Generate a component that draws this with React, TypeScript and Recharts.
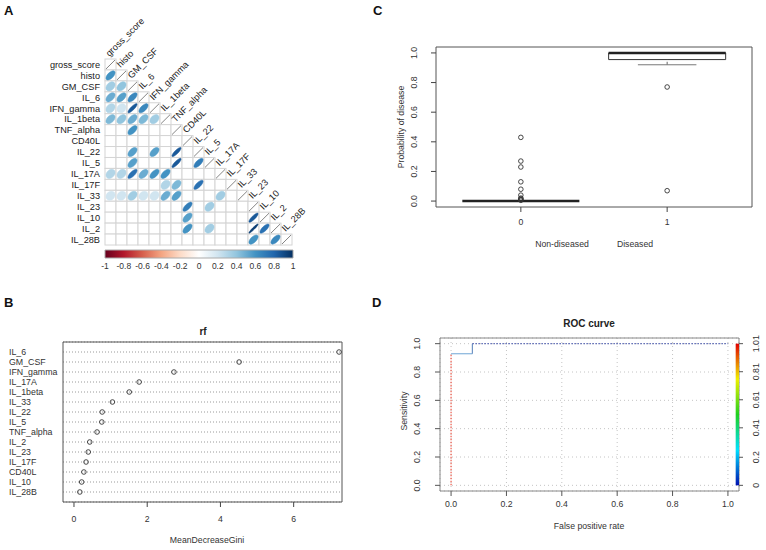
import React from "react";
import {
  ScatterChart,
  Scatter,
  ComposedChart,
  Line,
  XAxis,
  YAxis,
  CartesianGrid,
  ReferenceArea,
  ReferenceLine,
} from "recharts";

const FONT = "'Liberation Sans', Arial, Helvetica, sans-serif";

// ---- A: correlation matrix ----
const corrVars = [
  "gross_score", "histo", "GM_CSF", "IL_6", "IFN_gamma", "IL_1beta", "TNF_alpha", "CD40L",
  "IL_22", "IL_5", "IL_17A", "IL_17F", "IL_33", "IL_23", "IL_10", "IL_2", "IL_28B",
];
// [row, col, r]
const corrValues: [number, number, number][] = [
  [1, 0, 0.6],
  [2, 0, 0.35], [2, 1, 0.4],
  [3, 0, 0.5], [3, 1, 0.55], [3, 2, 0.65],
  [4, 0, 0.3], [4, 1, 0.2], [4, 2, 0.85], [4, 3, 0.65],
  [5, 0, 0.45], [5, 1, 0.4], [5, 2, 0.5], [5, 3, 0.45], [5, 4, 0.35],
  [6, 2, 0.6],
  [8, 2, 0.55], [8, 4, 0.55], [8, 6, 0.85],
  [9, 2, 0.55], [9, 6, 0.85], [9, 8, 0.7],
  [10, 0, 0.3], [10, 1, 0.3], [10, 2, 0.75], [10, 3, 0.5], [10, 4, 0.6], [10, 5, 0.6],
  [11, 5, 0.3], [11, 6, 0.45], [11, 8, 0.75],
  [12, 0, 0.2], [12, 1, 0.2], [12, 2, 0.35], [12, 3, 0.2], [12, 4, 0.2], [12, 5, 0.5], [12, 6, 0.55], [12, 10, 0.35],
  [13, 7, 0.7], [13, 9, 0.35],
  [14, 7, 0.55], [14, 13, 0.85],
  [15, 7, 0.6], [15, 9, 0.35], [15, 13, 0.95], [15, 14, 0.75],
  [16, 13, 0.6], [16, 15, 0.65],
];
const corrTicks = [-1, -0.8, -0.6, -0.4, -0.2, 0, 0.2, 0.4, 0.6, 0.8, 1];

// ---- B: variable importance ----
const rfVars = [
  "IL_6", "GM_CSF", "IFN_gamma", "IL_17A", "IL_1beta", "IL_33", "IL_22", "IL_5",
  "TNF_alpha", "IL_2", "IL_23", "IL_17F", "CD40L", "IL_10", "IL_28B",
];
const rfGini = [7.24, 4.51, 2.73, 1.78, 1.51, 1.05, 0.77, 0.76, 0.63, 0.43, 0.39, 0.33, 0.27, 0.21, 0.16];
const rfTicks = [0, 2, 4, 6];

// ---- C: boxplot ----
const groups = ["0", "1"];
const groupNames = ["Non-diseased", "Diseased"];
const boxLow = [0, 0.92];
const boxQ1 = [0, 0.955];
const boxMedian = [0, 1.0];
const boxQ3 = [0, 1.0];
const boxHigh = [0, 1.0];
const outliers = [
  [0.43, 0.27, 0.23, 0.13, 0.08, 0.04, 0.02, 0.015, 0.01, 0.005],
  [0.77, 0.07],
];
const probTicks = [0, 0.2, 0.4, 0.6, 0.8, 1.0];

// ---- D: ROC ----
const rocFpr = [0, 0, 0.077, 0.077, 1];
const rocTpr = [0, 0.929, 0.929, 1, 1];
const rocColors = ["#ee5a4a", "#86b4dc", "#6f93c4", "#5a68b4"];
const rocDash = ["1.5 1.5", "", "", "1.5 1.5"];
const rocTicks = [0, 0.2, 0.4, 0.6, 0.8, 1.0];
const cutoffTicks = [0, 0.2, 0.41, 0.61, 0.81, 1.01];

const RDBU = ["#67001F", "#B2182B", "#D6604D", "#F4A582", "#FDDBC7", "#FFFFFF", "#D1E5F0", "#92C5DE", "#4393C3", "#2166AC", "#053061"];

function hex(c: string) {
  return [1, 3, 5].map((i) => parseInt(c.slice(i, i + 2), 16));
}
function rdbu(r: number) {
  const t = ((r + 1) / 2) * (RDBU.length - 1);
  const i = Math.min(Math.floor(t), RDBU.length - 2);
  const f = t - i;
  const a = hex(RDBU[i]);
  const b = hex(RDBU[i + 1]);
  const m = a.map((v, k) => Math.round(v + (b[k] - v) * f));
  return `rgb(${m[0]},${m[1]},${m[2]})`;
}

const CELL_W = 187 / 17;
const CELL_H = 186 / 17;

const cellData = corrVars.flatMap((_, row) => corrVars.slice(0, row + 1).map((__, col) => ({ col, row })));
const diagData = corrVars.map((name, i) => ({ col: i, row: i, name }));
const ellipseData = corrValues.map(([row, col, r]) => ({ col, row, r }));

function CellShape(props: any) {
  const { cx, cy } = props;
  return <rect x={cx - CELL_W / 2} y={cy - CELL_H / 2} width={CELL_W} height={CELL_H} fill="#fff" stroke="#d4d4d4" strokeWidth={1} />;
}

function EllipseShape(props: any) {
  const { cx, cy, payload } = props;
  const r = payload.r;
  const k = 4.6;
  const rx = k * Math.sqrt(1 + Math.abs(r));
  const ry = Math.max(k * Math.sqrt(1 - Math.abs(r)), 0.5);
  const c = rdbu(r);
  return <ellipse cx={cx} cy={cy} rx={rx} ry={ry} fill={c} stroke={c} strokeWidth={0.5} transform={`rotate(${r >= 0 ? -45 : 45} ${cx} ${cy})`} />;
}

function DiagShape(props: any) {
  const { cx, cy, payload } = props;
  const x0 = cx - CELL_W / 2;
  const y0 = cy + CELL_H / 2;
  const tx = cx - 1;
  const ty = cy - CELL_H / 2 - 2;
  return (
    <g>
      <line x1={x0 + 1} y1={y0 - 1} x2={x0 + CELL_W - 1} y2={y0 - CELL_H + 1} stroke="#666" strokeWidth={0.8} />
      <text x={tx} y={ty} transform={`rotate(-45 ${tx} ${ty})`} fontSize={9.2} fill="#222" fontFamily={FONT}>
        {payload.name}
      </text>
    </g>
  );
}

function Hollow(props: any) {
  const { cx, cy } = props;
  return <circle cx={cx} cy={cy} r={2.3} fill="none" stroke="#333" strokeWidth={0.9} />;
}

function makeRotTick(offset: number, fmt: (v: number) => string) {
  return (props: any) => {
    const { x, y, payload } = props;
    const tx = x + offset;
    return (
      <text x={tx} y={y} transform={`rotate(-90 ${tx} ${y})`} textAnchor="middle" fontSize={8.7} fill="#333" fontFamily={FONT}>
        {fmt(payload.value)}
      </text>
    );
  };
}

const tickStyle = { fontSize: 8.7, fill: "#333", fontFamily: FONT };

function PanelA() {
  return (
    <>
      <div style={{ position: "absolute", left: 0, top: 0 }}>
        <ScatterChart width={320} height={250} margin={{ top: 59, right: 28, bottom: 5, left: 0 }}>
          <XAxis type="number" dataKey="col" domain={[-0.5, 16.5]} hide height={0} />
          <YAxis
            type="number"
            dataKey="row"
            domain={[-0.5, 16.5]}
            reversed
            ticks={corrVars.map((_, i) => i)}
            interval={0}
            tickFormatter={(v: number) => corrVars[v]}
            width={105}
            tickLine={false}
            axisLine={false}
            tickSize={3}
            tickMargin={2}
            tick={{ fontSize: 9.2, fill: "#222", fontFamily: FONT }}
          />
          <Scatter data={cellData} shape={CellShape} isAnimationActive={false} />
          <Scatter data={ellipseData} shape={EllipseShape} isAnimationActive={false} />
          <Scatter data={diagData} shape={DiagShape} isAnimationActive={false} />
        </ScatterChart>
      </div>
      <div style={{ position: "absolute", left: 0, top: 240 }}>
        <ScatterChart width={320} height={40} margin={{ top: 10, right: 27, bottom: 2, left: 105 }}>
          <defs>
            <linearGradient id="rdbu" x1="0" y1="0" x2="1" y2="0">
              {RDBU.map((c, i) => (
                <stop key={i} offset={i / (RDBU.length - 1)} stopColor={c} />
              ))}
            </linearGradient>
          </defs>
          <XAxis
            type="number"
            dataKey="x"
            domain={[-1, 1]}
            ticks={corrTicks}
            interval={0}
            height={20}
            tickLine={false}
            axisLine={false}
            tickSize={0}
            tickMargin={5}
            tickFormatter={(v: number) => String(v)}
            tick={{ fontSize: 8.5, fill: "#333", fontFamily: FONT }}
          />
          <YAxis type="number" dataKey="y" domain={[0, 1]} hide width={0} />
          <ReferenceArea x1={-1} x2={1} y1={0} y2={1} fill="url(#rdbu)" fillOpacity={1} stroke="#aaa" />
          <Scatter data={corrTicks.map((t) => ({ x: t, y: 0.5 }))} shape={() => <g />} isAnimationActive={false} />
        </ScatterChart>
      </div>
    </>
  );
}

function PanelB() {
  const data = rfVars.map((_, i) => ({ x: rfGini[i], y: i + 1 }));
  return (
    <div style={{ position: "absolute", left: 0, top: 290 }}>
      <ScatterChart width={380} height={260} margin={{ top: 52, right: 38, bottom: 18, left: 0 }}>
        <CartesianGrid vertical={false} strokeDasharray="1 2" stroke="#9a9a9a" />
        <XAxis
          type="number"
          dataKey="x"
          domain={[-0.3, 7.32]}
          ticks={rfTicks}
          height={30}
          tickSize={5}
          tickMargin={9}
          axisLine={false}
          tickLine={{ stroke: "#444" }}
          tick={tickStyle}
          allowDataOverflow
        />
        <YAxis
          type="number"
          dataKey="y"
          domain={[0, 16]}
          reversed
          ticks={rfVars.map((_, i) => i + 1)}
          interval={0}
          width={63}
          tickLine={false}
          axisLine={false}
          tick={(p: any) => (
            <text x={9} y={p.y} dy="0.35em" fontSize={8.8} fill="#333" fontFamily={FONT}>
              {rfVars[p.payload.value - 1]}
            </text>
          )}
        />
        <ReferenceArea x1={-0.3} x2={7.32} y1={0} y2={16} fill="none" stroke="#555" />
        <Scatter data={data} shape={Hollow} isAnimationActive={false} />
      </ScatterChart>
    </div>
  );
}

function PanelC() {
  const pts = outliers.flatMap((vals, g) => vals.map((v) => ({ x: g + 1, y: v })));
  return (
    <div style={{ position: "absolute", left: 380, top: 0 }}>
      <ComposedChart width={386} height={290} margin={{ top: 47, right: 14, bottom: 58, left: 0 }}>
        <XAxis
          type="number"
          dataKey="x"
          domain={[0.42, 2.58]}
          ticks={[1, 2]}
          tickFormatter={(v: number) => groups[v - 1]}
          height={25}
          tickSize={5}
          tickMargin={7}
          axisLine={false}
          tickLine={{ stroke: "#444" }}
          tick={tickStyle}
          allowDataOverflow
        />
        <YAxis
          type="number"
          dataKey="y"
          domain={[-0.04, 1.04]}
          ticks={probTicks}
          width={56}
          tickSize={5}
          axisLine={false}
          tickLine={{ stroke: "#444" }}
          tick={makeRotTick(-12, (v) => v.toFixed(1))}
          allowDataOverflow
        />
        <ReferenceArea x1={0.42} x2={2.58} y1={-0.04} y2={1.04} fill="none" stroke="#555" />
        {groups.map((_, i) => {
          const c = i + 1;
          return (
            <React.Fragment key={i}>
              <ReferenceLine segment={[{ x: c, y: boxLow[i] }, { x: c, y: boxQ1[i] }]} stroke="#666" strokeDasharray="3 2" />
              <ReferenceLine segment={[{ x: c, y: boxQ3[i] }, { x: c, y: boxHigh[i] }]} stroke="#666" strokeDasharray="3 2" />
              <ReferenceLine segment={[{ x: c - 0.2, y: boxLow[i] }, { x: c + 0.2, y: boxLow[i] }]} stroke="#777" />
              <ReferenceLine segment={[{ x: c - 0.2, y: boxHigh[i] }, { x: c + 0.2, y: boxHigh[i] }]} stroke="#777" />
              <ReferenceArea x1={c - 0.4} x2={c + 0.4} y1={boxQ1[i]} y2={boxQ3[i]} fill="#fff" fillOpacity={1} stroke="#333" />
              <ReferenceLine segment={[{ x: c - 0.4, y: boxMedian[i] }, { x: c + 0.4, y: boxMedian[i] }]} stroke="#222" strokeWidth={2.6} />
            </React.Fragment>
          );
        })}
        <Scatter data={pts} shape={Hollow} isAnimationActive={false} />
      </ComposedChart>
    </div>
  );
}

function PanelD() {
  const segs = rocFpr.slice(1).map((x, i) => [
    { x: rocFpr[i], y: rocTpr[i] },
    { x, y: rocTpr[i + 1] },
  ]);
  const cutPts = cutoffTicks.map((c) => ({ x: 1.034, c }));
  return (
    <div style={{ position: "absolute", left: 380, top: 290 }}>
      <ComposedChart width={386} height={260} margin={{ top: 48, right: 1, bottom: 34, left: 0 }}>
        <defs>
          <linearGradient id="rainbow" x1="0" y1="1" x2="0" y2="0">
            <stop offset={0} stopColor="#0010b0" />
            <stop offset={0.25} stopColor="#00e0ff" />
            <stop offset={0.5} stopColor="#20d020" />
            <stop offset={0.75} stopColor="#f0f000" />
            <stop offset={1} stopColor="#e00000" />
          </linearGradient>
        </defs>
        <CartesianGrid strokeDasharray="1 3" stroke="#c4c4c4" />
        <XAxis
          type="number"
          dataKey="x"
          domain={[-0.04, 1.04]}
          ticks={rocTicks}
          tickFormatter={(v: number) => v.toFixed(1)}
          height={25}
          tickSize={5}
          tickMargin={5}
          axisLine={false}
          tickLine={{ stroke: "#555" }}
          tick={tickStyle}
          allowDataOverflow
        />
        <YAxis
          type="number"
          dataKey="y"
          domain={[-0.04, 1.04]}
          ticks={rocTicks}
          width={60}
          tickSize={5}
          axisLine={false}
          tickLine={{ stroke: "#555" }}
          tick={makeRotTick(-13, (v) => v.toFixed(1))}
          allowDataOverflow
        />
        <YAxis
          yAxisId="cut"
          dataKey="c"
          orientation="right"
          type="number"
          domain={[-0.0404, 1.0504]}
          ticks={cutoffTicks}
          interval={0}
          width={26}
          tickSize={4}
          tickMargin={2}
          axisLine={false}
          tickLine={{ stroke: "#555" }}
          tick={makeRotTick(14, (v) => String(v))}
          allowDataOverflow
        />
        <ReferenceArea x1={-0.04} x2={1.04} y1={-0.04} y2={1.04} fill="none" stroke="#888" />
        <ReferenceArea yAxisId="cut" x1={1.028} x2={1.04} y1={0} y2={1.01} fill="url(#rainbow)" fillOpacity={1} stroke="none" ifOverflow="visible" />
        <Scatter yAxisId="cut" data={cutPts} dataKey="c" shape={() => <g />} isAnimationActive={false} />
        {segs.map((s, i) => (
          <Line
            key={i}
            data={s}
            dataKey="y"
            type="linear"
            stroke={rocColors[i]}
            strokeWidth={1.2}
            strokeDasharray={rocDash[i] || undefined}
            dot={false}
            activeDot={false}
            isAnimationActive={false}
          />
        ))}
      </ComposedChart>
    </div>
  );
}

export default function App() {
  return (
    <div style={{ position: "absolute", left: 0, top: 0, width: 766, height: 550, background: "#fff", fontFamily: FONT }}>
      <PanelA />
      <PanelB />
      <PanelC />
      <PanelD />
      <svg width={766} height={550} style={{ position: "absolute", left: 0, top: 0, pointerEvents: "none" }} fontFamily={FONT}>
        <text x={4} y={15} fontSize={13} fontWeight="bold" fill="#111">A</text>
        <text x={4} y={307} fontSize={13} fontWeight="bold" fill="#111">B</text>
        <text x={373} y={15} fontSize={13} fontWeight="bold" fill="#111">C</text>
        <text x={372} y={307} fontSize={13} fontWeight="bold" fill="#111">D</text>
        <text x={203} y={335} fontSize={10} fontWeight="bold" textAnchor="middle" fill="#222">rf</text>
        <text x={207} y={543} fontSize={8.7} textAnchor="middle" fill="#333">MeanDecreaseGini</text>
        <text x={404} y={127} fontSize={8.7} textAnchor="middle" fill="#333" transform="rotate(-90 404 127)">
          Probability of disease
        </text>
        <text x={562} y={247} fontSize={8.7} textAnchor="middle" fill="#333">{groupNames[0]}</text>
        <text x={635} y={247} fontSize={8.7} textAnchor="middle" fill="#333">{groupNames[1]}</text>
        <text x={589} y={327} fontSize={10} fontWeight="bold" textAnchor="middle" fill="#222">ROC curve</text>
        <text x={589} y={529} fontSize={8.7} textAnchor="middle" fill="#333">False positive rate</text>
        <text x={407} y={411} fontSize={8.7} textAnchor="middle" fill="#333" transform="rotate(-90 407 411)">Sensitivity</text>
      </svg>
    </div>
  );
}
